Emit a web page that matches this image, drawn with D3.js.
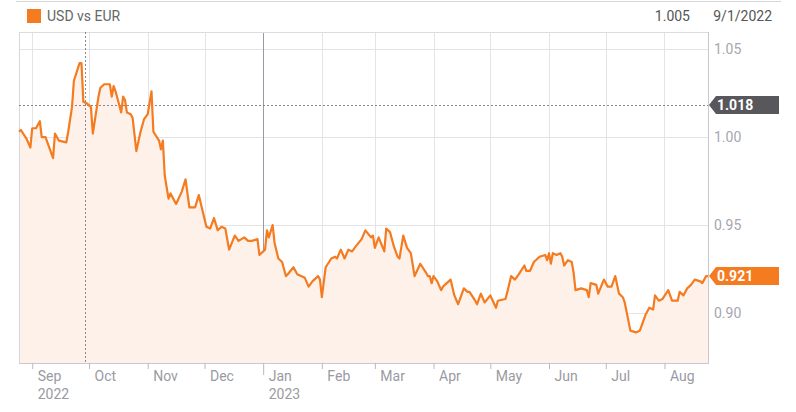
<!DOCTYPE html>
<html>
<head>
<meta charset="utf-8">
<script src="https://cdn.jsdelivr.net/npm/d3@7"></script>
<style>
  body { margin: 0; background: #fff; }
  svg { display: block; font-family: Roboto, "Noto Sans", sans-serif; }
</style>
</head>
<body>
<div id="chart"></div>
<script>
// series
const dates = [
  '2022-08-25','2022-08-26','2022-08-29','2022-08-31','2022-09-01','2022-09-03','2022-09-05','2022-09-06','2022-09-08','2022-09-12',
  '2022-09-13','2022-09-15','2022-09-19','2022-09-20','2022-09-22','2022-09-23','2022-09-26','2022-09-27','2022-09-28','2022-09-30',
  '2022-10-02','2022-10-03','2022-10-06','2022-10-07','2022-10-09','2022-10-12','2022-10-13','2022-10-14','2022-10-15','2022-10-18',
  '2022-10-19','2022-10-20','2022-10-21','2022-10-23','2022-10-24','2022-10-26','2022-10-28','2022-10-30','2022-11-01','2022-11-03',
  '2022-11-04','2022-11-07','2022-11-08','2022-11-09','2022-11-10','2022-11-12','2022-11-13','2022-11-16','2022-11-19','2022-11-21',
  '2022-11-23','2022-11-26','2022-11-28','2022-11-30','2022-12-02','2022-12-04','2022-12-06','2022-12-08','2022-12-10','2022-12-12',
  '2022-12-14','2022-12-17','2022-12-19','2022-12-22','2022-12-24','2022-12-26','2022-12-29','2022-12-30','2023-01-02','2023-01-03',
  '2023-01-04','2023-01-06','2023-01-07','2023-01-09','2023-01-11','2023-01-13','2023-01-14','2023-01-17','2023-01-19','2023-01-23',
  '2023-01-25','2023-01-27','2023-01-30','2023-01-31','2023-02-01','2023-02-03','2023-02-06','2023-02-08','2023-02-09','2023-02-11',
  '2023-02-13','2023-02-15','2023-02-17','2023-02-19','2023-02-22','2023-02-24','2023-02-27','2023-02-28','2023-03-01','2023-03-03',
  '2023-03-06','2023-03-07','2023-03-09','2023-03-11','2023-03-13','2023-03-14','2023-03-16','2023-03-18','2023-03-20','2023-03-22',
  '2023-03-25','2023-03-28','2023-03-29','2023-03-30','2023-03-31','2023-04-01','2023-04-03','2023-04-05','2023-04-06','2023-04-10',
  '2023-04-12','2023-04-14','2023-04-17','2023-04-19','2023-04-20','2023-04-23','2023-04-24','2023-04-26','2023-04-28','2023-05-01',
  '2023-05-04','2023-05-05','2023-05-09','2023-05-10','2023-05-12','2023-05-14','2023-05-16','2023-05-19','2023-05-20','2023-05-22',
  '2023-05-24','2023-05-27','2023-05-30','2023-05-31','2023-06-01','2023-06-02','2023-06-03','2023-06-05','2023-06-07','2023-06-08',
  '2023-06-09','2023-06-11','2023-06-13','2023-06-14','2023-06-15','2023-06-18','2023-06-21','2023-06-22','2023-06-23','2023-06-26',
  '2023-06-27','2023-06-30','2023-07-02','2023-07-04','2023-07-06','2023-07-08','2023-07-10','2023-07-11','2023-07-14','2023-07-17',
  '2023-07-19','2023-07-21','2023-07-22','2023-07-24','2023-07-26','2023-07-27','2023-07-29','2023-07-31','2023-08-03','2023-08-05',
  '2023-08-08','2023-08-09','2023-08-11','2023-08-13','2023-08-15','2023-08-17','2023-08-20','2023-08-21','2023-08-23','2023-08-24'
];

const values = [
  1.003,1.004,0.999,0.994,1.005,1.005,1.009,1.000,1.000,0.988,
  1.002,0.998,0.997,1.003,1.017,1.032,1.042,1.042,1.020,1.019,
  1.017,1.002,1.023,1.028,1.030,1.030,1.023,1.029,1.026,1.014,
  1.023,1.021,1.014,1.013,1.011,0.992,1.002,1.010,1.013,1.026,
  1.003,0.998,0.993,0.998,0.978,0.965,0.968,0.962,0.969,0.976,
  0.960,0.960,0.967,0.958,0.949,0.948,0.954,0.947,0.949,0.948,
  0.936,0.944,0.941,0.943,0.941,0.941,0.942,0.933,0.936,0.947,
  0.943,0.950,0.940,0.931,0.929,0.921,0.922,0.926,0.922,0.920,
  0.915,0.918,0.921,0.919,0.909,0.926,0.931,0.932,0.931,0.936,
  0.931,0.936,0.935,0.938,0.942,0.947,0.943,0.944,0.937,0.943,
  0.935,0.948,0.946,0.938,0.932,0.931,0.944,0.937,0.934,0.921,
  0.928,0.923,0.921,0.921,0.917,0.921,0.918,0.913,0.915,0.919,
  0.910,0.905,0.914,0.912,0.912,0.907,0.905,0.911,0.906,0.910,
  0.903,0.907,0.908,0.912,0.921,0.919,0.922,0.927,0.924,0.924,
  0.929,0.932,0.933,0.930,0.934,0.928,0.934,0.933,0.934,0.932,
  0.927,0.930,0.929,0.923,0.913,0.914,0.913,0.909,0.917,0.916,
  0.911,0.919,0.915,0.915,0.921,0.911,0.909,0.906,0.890,0.889,
  0.890,0.896,0.899,0.903,0.902,0.910,0.907,0.908,0.913,0.907,
  0.907,0.912,0.910,0.914,0.916,0.919,0.918,0.917,0.921,0.921
];

const yTicks = [0.90, 0.95, 1.00, 1.05];
const monthTicks = ['2022-09-01','2022-10-01','2022-11-01','2022-12-01','2023-01-01','2023-02-01',
  '2023-03-01','2023-04-01','2023-05-01','2023-06-01','2023-07-01','2023-08-01'];
const yearLabels = { '2022-09-01': '2022', '2023-01-01': '2023' };

const seriesName = 'USD vs EUR';
const hoverValue = 1.005, hoverDate = '9/1/2022';
const crossDate = '2022-09-29', crossValue = 1.018;
const lastValue = 0.921;

const width = 796, height = 412;
const margin = {left: 19, right: 88, top: 32, bottom: 49};
const orange = '#f47b20';

const parse = d3.timeParse('%Y-%m-%d');
const data = dates.map((d, i) => ({date: parse(d), value: values[i]}));

const svg = d3.select('#chart').append('svg')
    .attr('width', width)
    .attr('height', height);

const x = d3.scaleTime()
    .domain([parse('2022-08-25'), parse('2023-08-24')])
    .range([margin.left, width - margin.right]);

const y = d3.scaleLinear()
    .domain([0.8716, 1.0597])
    .range([height - margin.bottom, margin.top]);

const x0 = margin.left, x1 = width - margin.right,
    yTop = margin.top, yBot = height - margin.bottom;

// header
svg.append('line')
    .attr('x1', 16).attr('x2', 781).attr('y1', 1.5).attr('y2', 1.5)
    .attr('stroke', '#d6d6d6');
svg.append('rect')
    .attr('x', 27).attr('y', 9).attr('width', 14).attr('height', 14)
    .attr('fill', orange);
svg.append('text')
    .attr('x', 47).attr('y', 21)
    .attr('font-size', 14).attr('fill', '#666')
    .text(seriesName);
svg.append('text')
    .attr('x', 690).attr('y', 21).attr('text-anchor', 'end')
    .attr('font-size', 14).attr('fill', '#555')
    .text(hoverValue.toFixed(3));
svg.append('text')
    .attr('x', 772).attr('y', 21).attr('text-anchor', 'end')
    .attr('font-size', 14).attr('fill', '#555')
    .text(hoverDate);

// grid
const grid = svg.append('g');
grid.selectAll('.hgrid')
    .data(yTicks)
    .enter().append('line')
    .attr('x1', x0).attr('x2', x1)
    .attr('y1', d => Math.round(y(d)) + 0.5).attr('y2', d => Math.round(y(d)) + 0.5)
    .attr('stroke', '#e3e3e8');
grid.selectAll('.vgrid')
    .data(monthTicks)
    .enter().append('line')
    .attr('x1', d => Math.round(x(parse(d))) + 0.5).attr('x2', d => Math.round(x(parse(d))) + 0.5)
    .attr('y1', yTop).attr('y2', yBot)
    .attr('stroke', d => d === '2023-01-01' ? '#9a9aa6' : '#e3e3e8');

// area + line
const area = d3.area()
    .x(d => x(d.date))
    .y0(yBot)
    .y1(d => y(d.value));
const line = d3.line()
    .x(d => x(d.date))
    .y(d => y(d.value));

svg.append('path')
    .datum(data)
    .attr('d', area)
    .attr('fill', '#fef1ea');

// frame
svg.append('line')
    .attr('x1', x0).attr('x2', x1).attr('y1', yTop + 0.5).attr('y2', yTop + 0.5)
    .attr('stroke', '#dcdce0');
svg.append('line')
    .attr('x1', x0 + 0.5).attr('x2', x0 + 0.5).attr('y1', yTop).attr('y2', yBot)
    .attr('stroke', '#d6d6dc');
svg.append('line')
    .attr('x1', x1 + 0.5).attr('x2', x1 + 0.5).attr('y1', yTop).attr('y2', yBot)
    .attr('stroke', '#c8c8ce');
svg.append('line')
    .attr('x1', x0).attr('x2', x1 + 1).attr('y1', yBot + 0.5).attr('y2', yBot + 0.5)
    .attr('stroke', '#c8c8ce');

// crosshair
svg.append('line')
    .attr('x1', Math.round(x(parse(crossDate))) + 0.5).attr('x2', Math.round(x(parse(crossDate))) + 0.5)
    .attr('y1', yTop).attr('y2', yBot)
    .attr('stroke', '#888').attr('stroke-dasharray', '2,2');
svg.append('line')
    .attr('x1', x0).attr('x2', x1)
    .attr('y1', Math.round(y(crossValue)) + 0.5).attr('y2', Math.round(y(crossValue)) + 0.5)
    .attr('stroke', '#888').attr('stroke-dasharray', '2,2');

svg.append('path')
    .datum(data)
    .attr('d', line)
    .attr('fill', 'none')
    .attr('stroke', orange)
    .attr('stroke-width', 2.2)
    .attr('stroke-linejoin', 'round');

// y axis labels
const yAxis = svg.append('g')
    .attr('transform', 'translate(' + x1 + ',0)')
    .call(d3.axisRight(y).tickValues(yTicks).tickSize(0).tickPadding(6).tickFormat(d3.format('.2f')));
yAxis.select('.domain').remove();
yAxis.selectAll('text')
    .attr('font-family', 'Roboto, sans-serif')
    .attr('font-size', 14)
    .attr('fill', '#a6a6ae');

// x axis
const xAxis = svg.append('g')
    .attr('transform', 'translate(0,' + yBot + ')')
    .call(d3.axisBottom(x).tickValues(monthTicks.map(parse)).tickSize(6).tickFormat(d3.timeFormat('%b')));
xAxis.select('.domain').remove();
xAxis.selectAll('.tick line')
    .attr('stroke', '#b8b8c0')
    .attr('y2', d => d3.timeFormat('%Y-%m-%d')(d) === '2023-01-01' ? 12 : 6);
xAxis.selectAll('.tick text')
    .attr('text-anchor', 'start')
    .attr('x', 5)
    .attr('y', 8)
    .attr('dy', '0.71em')
    .attr('font-family', 'Roboto, sans-serif')
    .attr('font-size', 14)
    .attr('fill', '#9a9aa2');
xAxis.selectAll('.tick')
    .filter(d => yearLabels[d3.timeFormat('%Y-%m-%d')(d)])
    .append('text')
    .attr('x', 5).attr('y', 26).attr('dy', '0.71em')
    .attr('text-anchor', 'start')
    .attr('font-family', 'Roboto, sans-serif')
    .attr('font-size', 14)
    .attr('fill', '#9a9aa2')
    .text(d => yearLabels[d3.timeFormat('%Y-%m-%d')(d)]);

// value tags on the right
function tag(v, fill) {
    const cy = Math.round(y(v));
    svg.append('path')
        .attr('d', 'M' + (x1 + 1) + ',' + cy + 'L' + (x1 + 8) + ',' + (cy - 9) + 'L779,' + (cy - 9) +
            'L779,' + (cy + 9) + 'L' + (x1 + 8) + ',' + (cy + 9) + 'Z')
        .attr('fill', fill);
    svg.append('text')
        .attr('x', x1 + 9).attr('y', cy + 5)
        .attr('font-size', 14).attr('font-weight', 'bold')
        .attr('fill', '#fff')
        .text(v.toFixed(3));
}
tag(crossValue, '#57575c');
tag(lastValue, orange);
</script>
</body>
</html>
